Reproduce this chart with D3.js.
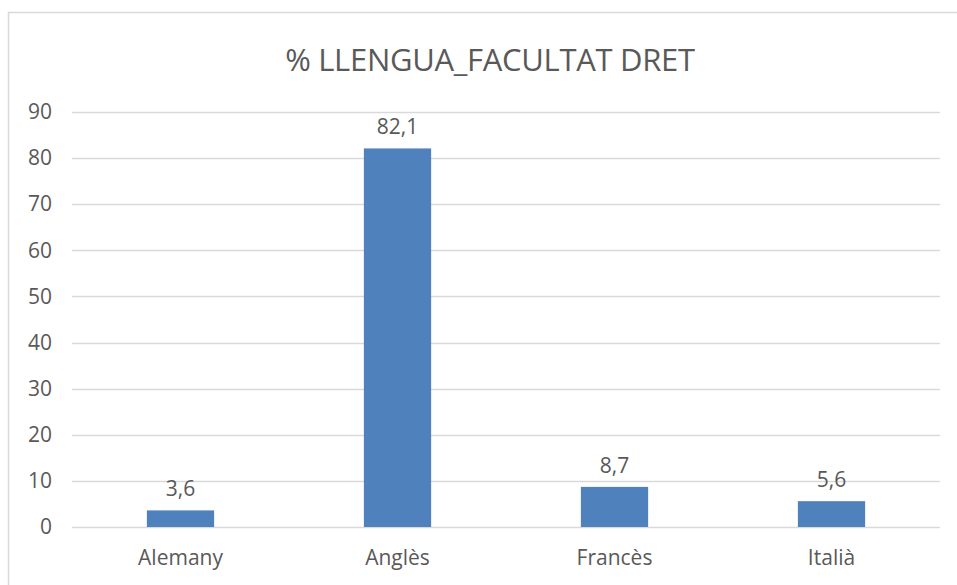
<!DOCTYPE html>
<html>
<head>
<meta charset="utf-8">
<script src="https://cdn.jsdelivr.net/npm/d3@7"></script>
<style>
  body { margin: 0; background: #fff; }
  text { font-family: "Open Sans", Lato, sans-serif; fill: #595959; }
</style>
</head>
<body>
<div id="chart"></div>
<script>
var categories = ["Alemany", "Anglès", "Francès", "Italià"];
var values = [3.6, 82.1, 8.7, 5.6];
var yTicks = [0, 10, 20, 30, 40, 50, 60, 70, 80, 90];

var W = 957, H = 585;
var margin = {top: 112, right: 17, bottom: 58, left: 72},
    width = W - margin.left - margin.right,
    height = H - margin.top - margin.bottom;

var svg = d3.select("#chart").append("svg")
    .attr("width", W)
    .attr("height", H);

// outer chart border
svg.append("rect")
    .attr("x", 8.5).attr("y", 12.5)
    .attr("width", 1000).attr("height", 700)
    .attr("fill", "none")
    .attr("stroke", "#d9d9d9")
    .attr("stroke-width", 1.5);

svg.append("text")
    .attr("x", 490).attr("y", 71)
    .attr("text-anchor", "middle")
    .style("font-size", "31px")
    .style("letter-spacing", "-0.3px")
    .text("% LLENGUA_FACULTAT DRET");

var g = svg.append("g")
    .attr("transform", "translate(" + margin.left + "," + margin.top + ")");

var x = d3.scaleBand()
    .domain(categories)
    .range([0, width])
    .paddingInner(0.69)
    .paddingOuter(0.345);

var y = d3.scaleLinear()
    .domain([0, 90])
    .range([height, 0]);

// gridlines
g.selectAll(".grid")
    .data(yTicks)
  .enter().append("line")
    .attr("class", "grid")
    .attr("x1", 0).attr("x2", width)
    .attr("y1", function(d) { return Math.round(y(d)) + 0.5; })
    .attr("y2", function(d) { return Math.round(y(d)) + 0.5; })
    .attr("stroke", "#d9d9d9")
    .attr("stroke-width", 1.5);

var yAxis = g.append("g")
    .call(d3.axisLeft(y).tickValues(yTicks).tickSize(0).tickPadding(20));
yAxis.select(".domain").remove();
yAxis.selectAll("text").style("font-size", "21px").attr("fill", "#595959");

var xAxis = g.append("g")
    .attr("transform", "translate(0," + height + ")")
    .call(d3.axisBottom(x).tickSize(0).tickPadding(23));
xAxis.select(".domain").remove();
xAxis.selectAll("text").style("font-size", "21px").attr("fill", "#595959");

g.selectAll(".bar")
    .data(values)
  .enter().append("rect")
    .attr("class", "bar")
    .attr("x", function(d, i) { return x(categories[i]); })
    .attr("y", function(d) { return y(d); })
    .attr("width", x.bandwidth())
    .attr("height", function(d) { return height - y(d); })
    .attr("fill", "#4f81bd");

g.selectAll(".lbl")
    .data(values)
  .enter().append("text")
    .attr("class", "lbl")
    .attr("x", function(d, i) { return x(categories[i]) + x.bandwidth() / 2; })
    .attr("y", function(d) { return y(d) - 14; })
    .attr("text-anchor", "middle")
    .style("font-size", "21px")
    .text(function(d) { return String(d).replace(".", ","); });
</script>
</body>
</html>
